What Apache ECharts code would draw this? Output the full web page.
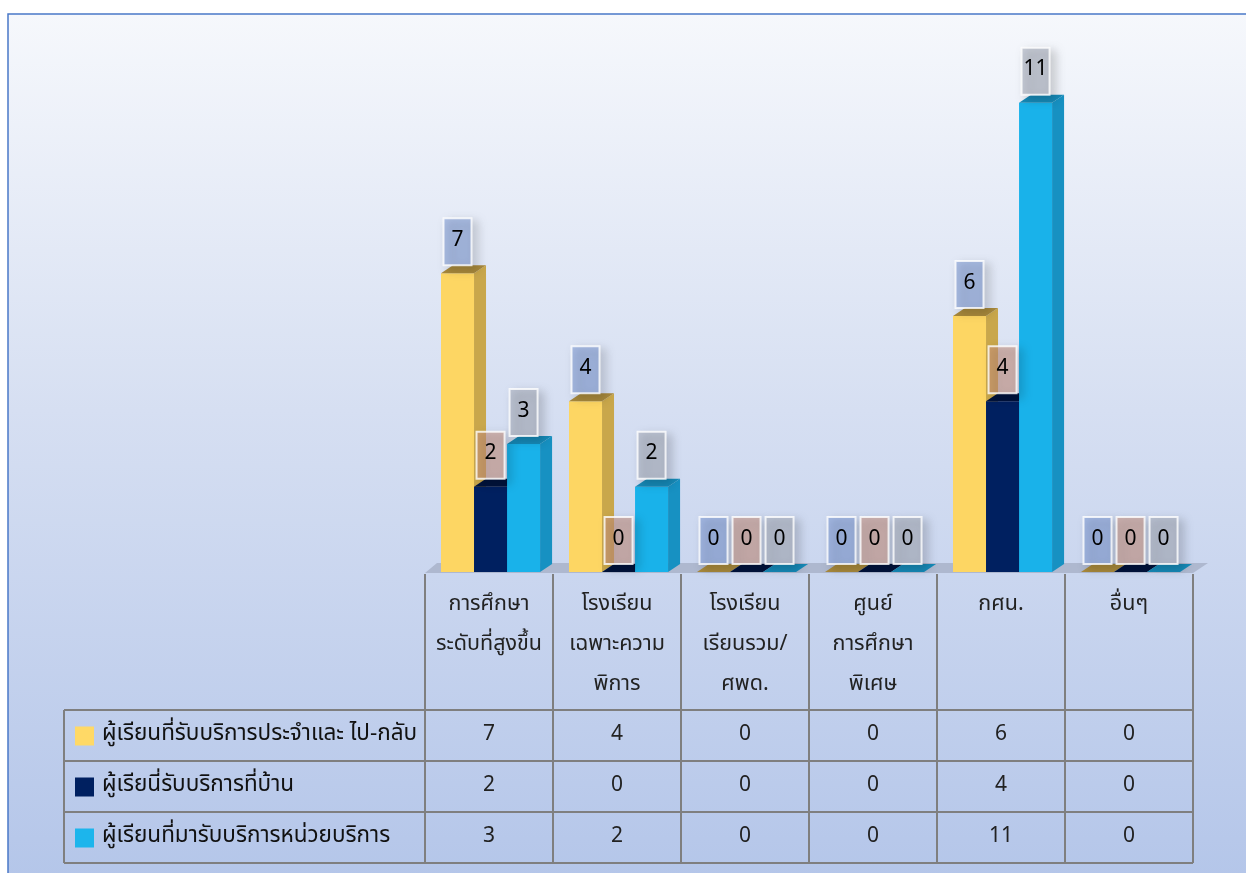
<!DOCTYPE html>
<html>
<head>
<meta charset="utf-8">
<script src="https://cdn.jsdelivr.net/npm/echarts@6/dist/echarts.min.js"></script>
<style>
  html, body { margin: 0; padding: 0; background: #fff; }
  #main { width: 1246px; height: 873px; }
</style>
</head>
<body>
<div id="main"></div>
<script>
// ข้อมูลจากกราฟ
var categories = ['การศึกษา\nระดับที่สูงขึ้น', 'โรงเรียน\nเฉพาะความ\nพิการ', 'โรงเรียน\nเรียนรวม/\nศพด.', 'ศูนย์\nการศึกษา\nพิเศษ', 'กศน.', 'อื่นๆ'];
var seriesNames = ['ผู้เรียนที่รับบริการประจำและ ไป-กลับ', 'ผู้เรียนี่รับบริการที่บ้าน', 'ผู้เรียนที่มารับบริการหน่วยบริการ'];
var serviceAndCommute = [7, 4, 0, 0, 6, 0];
var homeService = [2, 0, 0, 0, 4, 0];
var unitService = [3, 2, 0, 0, 11, 0];

var allValues = [serviceAndCommute, homeService, unitService];
var faceColors = [
  { front: '#FDD663', side: '#C9A74B', top: '#A8893C', box: 'rgba(125,155,215,0.55)', key: '#FFD966' },
  { front: '#002060', side: '#00164A', top: '#00133C', box: 'rgba(205,150,130,0.55)', key: '#002060' },
  { front: '#19B2EA', side: '#1791C2', top: '#168AB8', box: 'rgba(175,182,195,0.65)', key: '#1CB5EC' }
];
var FONT = '"Noto Sans Thai", "Tahoma", "Loma", "Garuda", "Noto Sans", sans-serif';

var gridLeft = 425, gridTop = 60, gridW = 768, gridH = 512;
var dx = 12, dy = 8;

var chart = echarts.init(document.getElementById('main'));

function geom(api, s) {
  var idx = api.value(0), v = api.value(1);
  var base = api.coord([idx, 0]);
  var top = api.coord([idx, v]);
  var w = api.size([1, 0])[0];
  var bw = w * 0.258;
  var x0 = base[0] - w * 0.375 + s * bw;
  return { x0: x0, bw: bw, yt: top[1], yb: base[1] };
}

function barRender(s) {
  return function (params, api) {
    var g = geom(api, s), c = faceColors[s];
    return {
      type: 'group',
      children: [
        { type: 'rect', shape: { x: g.x0, y: g.yt, width: g.bw, height: g.yb - g.yt }, style: { fill: c.front } },
        { type: 'polygon', shape: { points: [[g.x0 + g.bw, g.yt], [g.x0 + g.bw + dx, g.yt - dy], [g.x0 + g.bw + dx, g.yb - dy], [g.x0 + g.bw, g.yb]] }, style: { fill: c.side } },
        { type: 'polygon', shape: { points: [[g.x0, g.yt], [g.x0 + dx, g.yt - dy], [g.x0 + g.bw + dx, g.yt - dy], [g.x0 + g.bw, g.yt]] }, style: { fill: c.top } }
      ]
    };
  };
}

function labelRender(s) {
  return function (params, api) {
    var g = geom(api, s), c = faceColors[s];
    var bxW = 28, bxH = 47;
    var bx = g.x0 + (g.bw - bxW) / 2, by = g.yt - dy - bxH;
    return {
      type: 'group',
      children: [
        { type: 'rect', shape: { x: bx, y: by, width: bxW, height: bxH },
          style: { fill: c.box, stroke: 'rgba(255,255,255,0.8)', lineWidth: 2, shadowBlur: 10, shadowColor: 'rgba(0,0,0,0.25)', shadowOffsetX: 5, shadowOffsetY: 4 } },
        { type: 'text', style: { x: bx + bxW / 2, y: by + bxH / 2, text: String(api.value(1)), fill: '#000', font: '21px ' + FONT, align: 'center', verticalAlign: 'middle' } }
      ]
    };
  };
}

var series = [];
allValues.forEach(function (vals, s) {
  series.push({ type: 'custom', name: seriesNames[s], z: 2 + s, renderItem: barRender(s),
    encode: { x: 0, y: 1 }, data: vals.map(function (v, i) { return [i, v]; }) });
});
allValues.forEach(function (vals, s) {
  series.push({ type: 'custom', name: seriesNames[s] + '-label', z: 10, renderItem: labelRender(s),
    encode: { x: 0, y: 1 }, data: vals.map(function (v, i) { return [i, v]; }) });
});

// ตารางข้อมูลด้านล่าง
var cellW = gridW / categories.length;
var floorY = gridTop + gridH;
var rowTop = 710, rowH = 51;
var graphics = [];
graphics.push({ type: 'rect', z: -10, shape: { x: 8, y: 14, width: 1260, height: 880 },
  style: { fill: new echarts.graphic.LinearGradient(0, 0, 0, 1, [{ offset: 0, color: '#F6F8FC' }, { offset: 0.45, color: '#D6DFF2' }, { offset: 1, color: '#B3C5E9' }]),
    stroke: '#4A78C8', lineWidth: 1.5 } });
graphics.push({ type: 'polygon', z: -5, shape: { points: [[gridLeft, floorY + 1], [gridLeft + gridW, floorY + 1], [gridLeft + gridW + 15, floorY - 9], [gridLeft + 12, floorY - 9]] },
  style: { fill: '#AEB8CF' } });
var lineStyle = { stroke: '#7F7F7F', lineWidth: 2 };
for (var i = 0; i <= categories.length; i++) {
  var lx = gridLeft + cellW * i;
  graphics.push({ type: 'line', shape: { x1: lx, y1: floorY + 2, x2: lx, y2: rowTop + rowH * 3 }, style: lineStyle });
}
graphics.push({ type: 'line', shape: { x1: 64, y1: rowTop, x2: 64, y2: rowTop + rowH * 3 }, style: lineStyle });
for (var r = 0; r <= 3; r++) {
  graphics.push({ type: 'line', shape: { x1: 64, y1: rowTop + rowH * r, x2: gridLeft + gridW, y2: rowTop + rowH * r }, style: lineStyle });
}
allValues.forEach(function (vals, s) {
  var cy = rowTop + rowH * s + rowH / 2;
  graphics.push({ type: 'rect', shape: { x: 75, y: cy - 9, width: 19, height: 19 }, style: { fill: faceColors[s].key } });
  graphics.push({ type: 'text', style: { x: 102, y: cy, text: seriesNames[s], fill: '#111', font: '22.5px ' + FONT, verticalAlign: 'middle' } });
  vals.forEach(function (v, i) {
    graphics.push({ type: 'text', style: { x: gridLeft + cellW * (i + 0.5), y: cy, text: String(v), fill: '#222', font: '21px ' + FONT, align: 'center', verticalAlign: 'middle' } });
  });
});

var option = {
  animation: false,
  grid: { left: gridLeft, top: gridTop, width: gridW, height: gridH },
  xAxis: {
    type: 'category', data: categories,
    axisLine: { show: false }, axisTick: { show: false }, splitLine: { show: false },
    axisLabel: { interval: 0, margin: 14, lineHeight: 40, fontSize: 21.5, color: '#222', fontFamily: FONT }
  },
  yAxis: { type: 'value', min: 0, max: 12, show: false },
  graphic: graphics,
  series: series
};
chart.setOption(option);
</script>
</body>
</html>
